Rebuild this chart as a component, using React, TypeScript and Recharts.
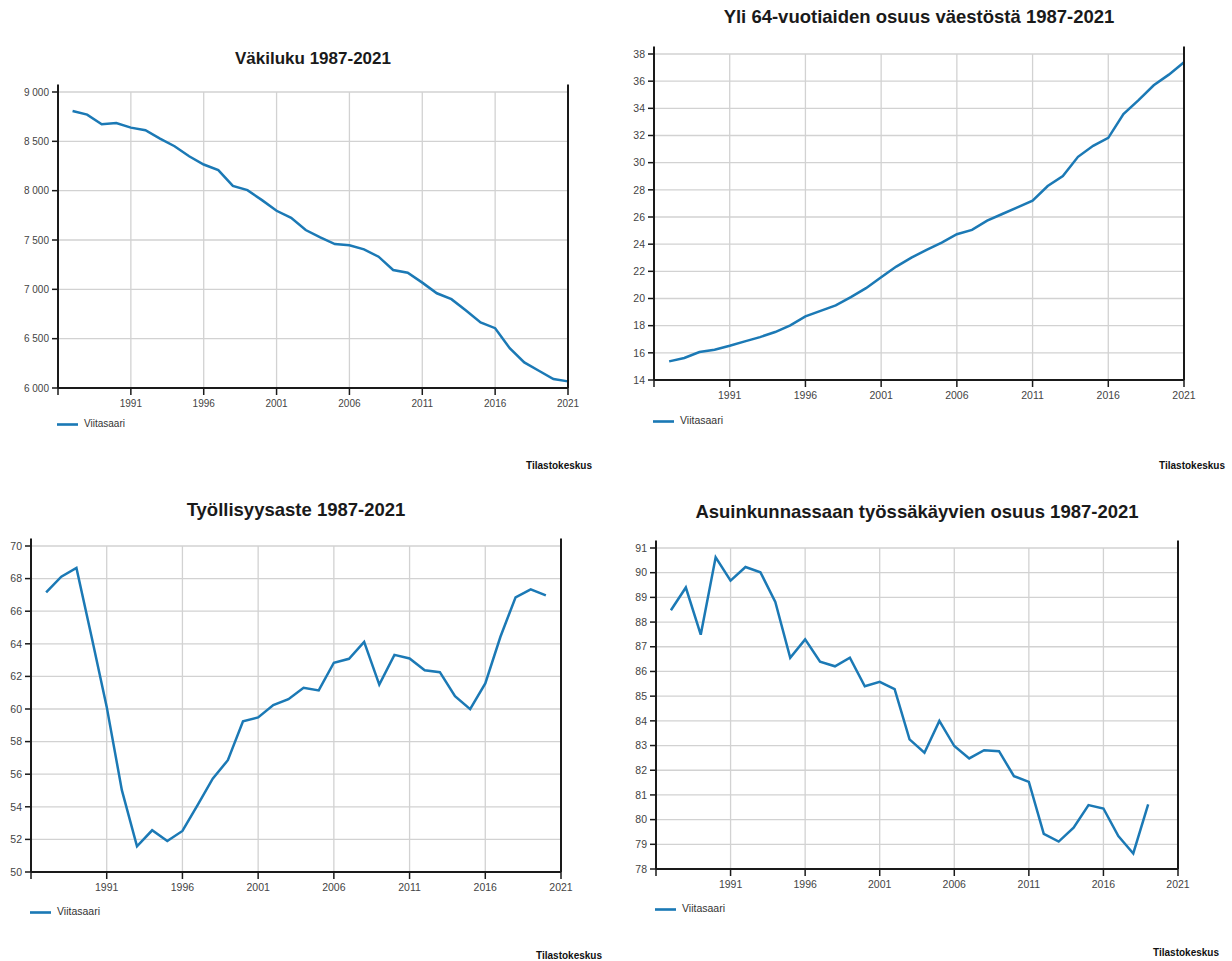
import React from "react";
import { Legend, Line, LineChart, ReferenceLine, XAxis, YAxis } from "recharts";

const YEARS = [
  1987, 1988, 1989, 1990, 1991, 1992, 1993, 1994, 1995, 1996, 1997, 1998,
  1999, 2000, 2001, 2002, 2003, 2004, 2005, 2006, 2007, 2008, 2009, 2010,
  2011, 2012, 2013, 2014, 2015, 2016, 2017, 2018, 2019, 2020, 2021,
];
const X_TICKS = [1986, 1991, 1996, 2001, 2006, 2011, 2016, 2021];
const X_GRID = [1991, 1996, 2001, 2006, 2011, 2016];

// Väkiluku
const POPULATION = [
  8808, 8771, 8673, 8686, 8639, 8612, 8528, 8450, 8349, 8265, 8208, 8049,
  8005, 7904, 7796, 7725, 7601, 7527, 7459, 7446, 7405, 7331, 7196, 7169,
  7068, 6960, 6900, 6785, 6664, 6606, 6404, 6259, 6175, 6091, 6067,
];
const POPULATION_TICKS = [6000, 6500, 7000, 7500, 8000, 8500, 9000];

// Yli 64-vuotiaiden osuus
const OLD_SHARE = [
  15.37, 15.62, 16.06, 16.23, 16.52, 16.84, 17.16, 17.53, 18.02, 18.68, 19.09,
  19.49, 20.1, 20.76, 21.57, 22.35, 23.01, 23.58, 24.11, 24.73, 25.05, 25.73,
  26.22, 26.71, 27.2, 28.28, 29.01, 30.43, 31.24, 31.83, 33.57, 34.6, 35.7,
  36.48, 37.39,
];
const OLD_TICKS = [14, 16, 18, 20, 22, 24, 26, 28, 30, 32, 34, 36, 38];

// Työllisyysaste (1987-2020)
const EMPLOYMENT = [
  67.15, 68.12, 68.65, 64.43, 60.13, 55.02, 51.58, 52.56, 51.9, 52.52, 54.1,
  55.73, 56.86, 59.25, 59.48, 60.24, 60.6, 61.3, 61.14, 62.84, 63.08, 64.12,
  61.5, 63.32, 63.1, 62.38, 62.26, 60.79, 59.99, 61.57, 64.43, 66.85, 67.34,
  66.97,
];
const EMPLOYMENT_TICKS = [50, 52, 54, 56, 58, 60, 62, 64, 66, 68, 70];

// Asuinkunnassaan työssäkäyvien osuus (1987-2019)
const COMMUTE = [
  88.48, 89.4, 87.49, 90.62, 89.68, 90.23, 90.02, 88.82, 86.55, 87.3, 86.4,
  86.21, 86.56, 85.4, 85.58, 85.28, 83.25, 82.71, 84.0, 82.98, 82.48, 82.81,
  82.77, 81.76, 81.53, 79.42, 79.11, 79.67, 80.59, 80.45, 79.33, 78.63, 80.62,
];
const COMMUTE_TICKS = [78, 79, 80, 81, 82, 83, 84, 85, 86, 87, 88, 89, 90, 91];

const BLUE = "#1b79b5";
const AXIS = "#1a1a1a";
const GRID = "#d2d2d2";
const FONT = "'Liberation Sans', Arial, sans-serif";

const thousands = (v: number) => String(v).replace(/\B(?=(\d{3})+(?!\d))/g, "\u00a0");

type Rect = { l: number; r: number; t: number; b: number };

function Panel(props: {
  title: string;
  titleSize: number;
  values: number[];
  yTicks: number[];
  fmt?: (v: number) => string;
  plot: Rect;
  titleTop: number;
  legendY: number;
  sourceRight: number;
  sourceY: number;
  fontSize: number;
}) {
  const { title, titleSize, values, yTicks, fmt, plot, titleTop, legendY, sourceRight, sourceY, fontSize } = props;
  const data = values.map((v, i) => ({ year: YEARS[i], value: v }));
  const yMin = yTicks[0];
  const yMax = yTicks[yTicks.length - 1];
  // axes stick out ~7.5px above the top tick
  const ext = ((yMax - yMin) * 7.5) / (plot.b - plot.t);

  const x0 = plot.l - 60;
  const y0 = plot.t - 20;
  const w = plot.r - plot.l + 120;
  const h = plot.b - plot.t + 20 + 40;
  const tick = { fontSize, fill: "#444" };
  const tickLine = { stroke: AXIS, strokeWidth: 1.5 };

  return (
    <>
      <div
        style={{
          position: "absolute",
          left: plot.l - 50,
          width: plot.r - plot.l + 100,
          top: titleTop,
          textAlign: "center",
          fontWeight: "bold",
          fontSize: titleSize,
          lineHeight: `${titleSize + 2}px`,
          color: "#1a1a1a",
          whiteSpace: "nowrap",
        }}
      >
        {title}
      </div>
      <div style={{ position: "absolute", left: x0, top: y0 }}>
        <LineChart width={w} height={h} data={data} margin={{ top: 20, right: 10, bottom: 10, left: 10 }}>
          <XAxis
            dataKey="year"
            type="number"
            domain={[1986, 2021]}
            ticks={X_TICKS}
            tickFormatter={(v: number) => (v === 1986 ? "" : String(v))}
            height={30}
            tick={tick}
            tickSize={7}
            tickMargin={5}
            axisLine={false}
            tickLine={tickLine}
            interval={0}
          />
          <YAxis
            domain={[yMin, yMax]}
            ticks={yTicks}
            tickFormatter={fmt}
            width={50}
            tick={tick}
            tickSize={6}
            tickMargin={3}
            axisLine={false}
            tickLine={tickLine}
            interval={0}
          />
          <YAxis
            yAxisId="r"
            orientation="right"
            domain={[yMin, yMax]}
            ticks={yTicks}
            tickFormatter={fmt}
            width={50}
            tick={tick}
            tickSize={6}
            tickMargin={3}
            axisLine={false}
            tickLine={tickLine}
            interval={0}
          />
          {yTicks.slice(1).map((t) => (
            <ReferenceLine key={`h${t}`} y={t} stroke={GRID} strokeWidth={1.3} />
          ))}
          {X_GRID.map((x) => (
            <ReferenceLine
              key={`v${x}`}
              segment={[{ x, y: yMin }, { x, y: yMax }]}
              stroke={GRID}
              strokeWidth={1.3}
            />
          ))}
          <Line
            type="linear"
            dataKey="value"
            name="Viitasaari"
            stroke={BLUE}
            strokeWidth={2.5}
            dot={false}
            isAnimationActive={false}
          />
          <ReferenceLine
            segment={[{ x: 1986, y: yMin }, { x: 1986, y: yMax + ext }]}
            ifOverflow="visible"
            stroke={AXIS}
            strokeWidth={2}
          />
          <ReferenceLine
            segment={[{ x: 2021, y: yMin }, { x: 2021, y: yMax + ext }]}
            ifOverflow="visible"
            stroke={AXIS}
            strokeWidth={2}
          />
          <ReferenceLine
            segment={[{ x: 1986, y: yMin }, { x: 2021, y: yMin }]}
            ifOverflow="visible"
            stroke={AXIS}
            strokeWidth={2}
          />
          <Legend
            layout="horizontal"
            iconType="plainline"
            iconSize={21}
            align="center"
            verticalAlign="middle"
            wrapperStyle={{
              left: plot.l - 1 - x0,
              top: legendY - y0 - 11,
              bottom: "auto",
              width: "auto",
              fontSize: fontSize,
            }}
            formatter={(v: string) => <span style={{ color: "#333", marginLeft: 2 }}>{v}</span>}
          />
        </LineChart>
      </div>
      <div
        style={{
          position: "absolute",
          right: 1232 - sourceRight,
          top: sourceY - 6,
          fontWeight: "bold",
          fontSize: 10,
          lineHeight: "12px",
          color: "#111",
        }}
      >
        Tilastokeskus
      </div>
    </>
  );
}

export default function App() {
  return (
    <div
      style={{
        position: "absolute",
        left: 0,
        top: 0,
        width: 1232,
        height: 961,
        background: "#fff",
        fontFamily: FONT,
        overflow: "hidden",
      }}
    >
      <Panel
        title="Väkiluku 1987-2021"
        titleSize={17}
        values={POPULATION}
        yTicks={POPULATION_TICKS}
        fmt={thousands}
        plot={{ l: 58, r: 568, t: 92, b: 388 }}
        titleTop={48.8}
        legendY={425}
        sourceRight={592}
        sourceY={466}
        fontSize={10}
      />
      <Panel
        title="Yli 64-vuotiaiden osuus väestöstä 1987-2021"
        titleSize={18.5}
        values={OLD_SHARE}
        yTicks={OLD_TICKS}
        plot={{ l: 654, r: 1184, t: 54, b: 380 }}
        titleTop={6.6}
        legendY={422}
        sourceRight={1225}
        sourceY={466}
        fontSize={10.5}
      />
      <Panel
        title="Työllisyysaste 1987-2021"
        titleSize={18.5}
        values={EMPLOYMENT}
        yTicks={EMPLOYMENT_TICKS}
        plot={{ l: 31, r: 561, t: 546, b: 872 }}
        titleTop={499.6}
        legendY={912.7}
        sourceRight={602}
        sourceY={956}
        fontSize={10.5}
      />
      <Panel
        title="Asuinkunnassaan työssäkäyvien osuus 1987-2021"
        titleSize={18.5}
        values={COMMUTE}
        yTicks={COMMUTE_TICKS}
        plot={{ l: 656, r: 1178, t: 548, b: 869 }}
        titleTop={501.6}
        legendY={910}
        sourceRight={1219}
        sourceY={953.3}
        fontSize={10.5}
      />
    </div>
  );
}
